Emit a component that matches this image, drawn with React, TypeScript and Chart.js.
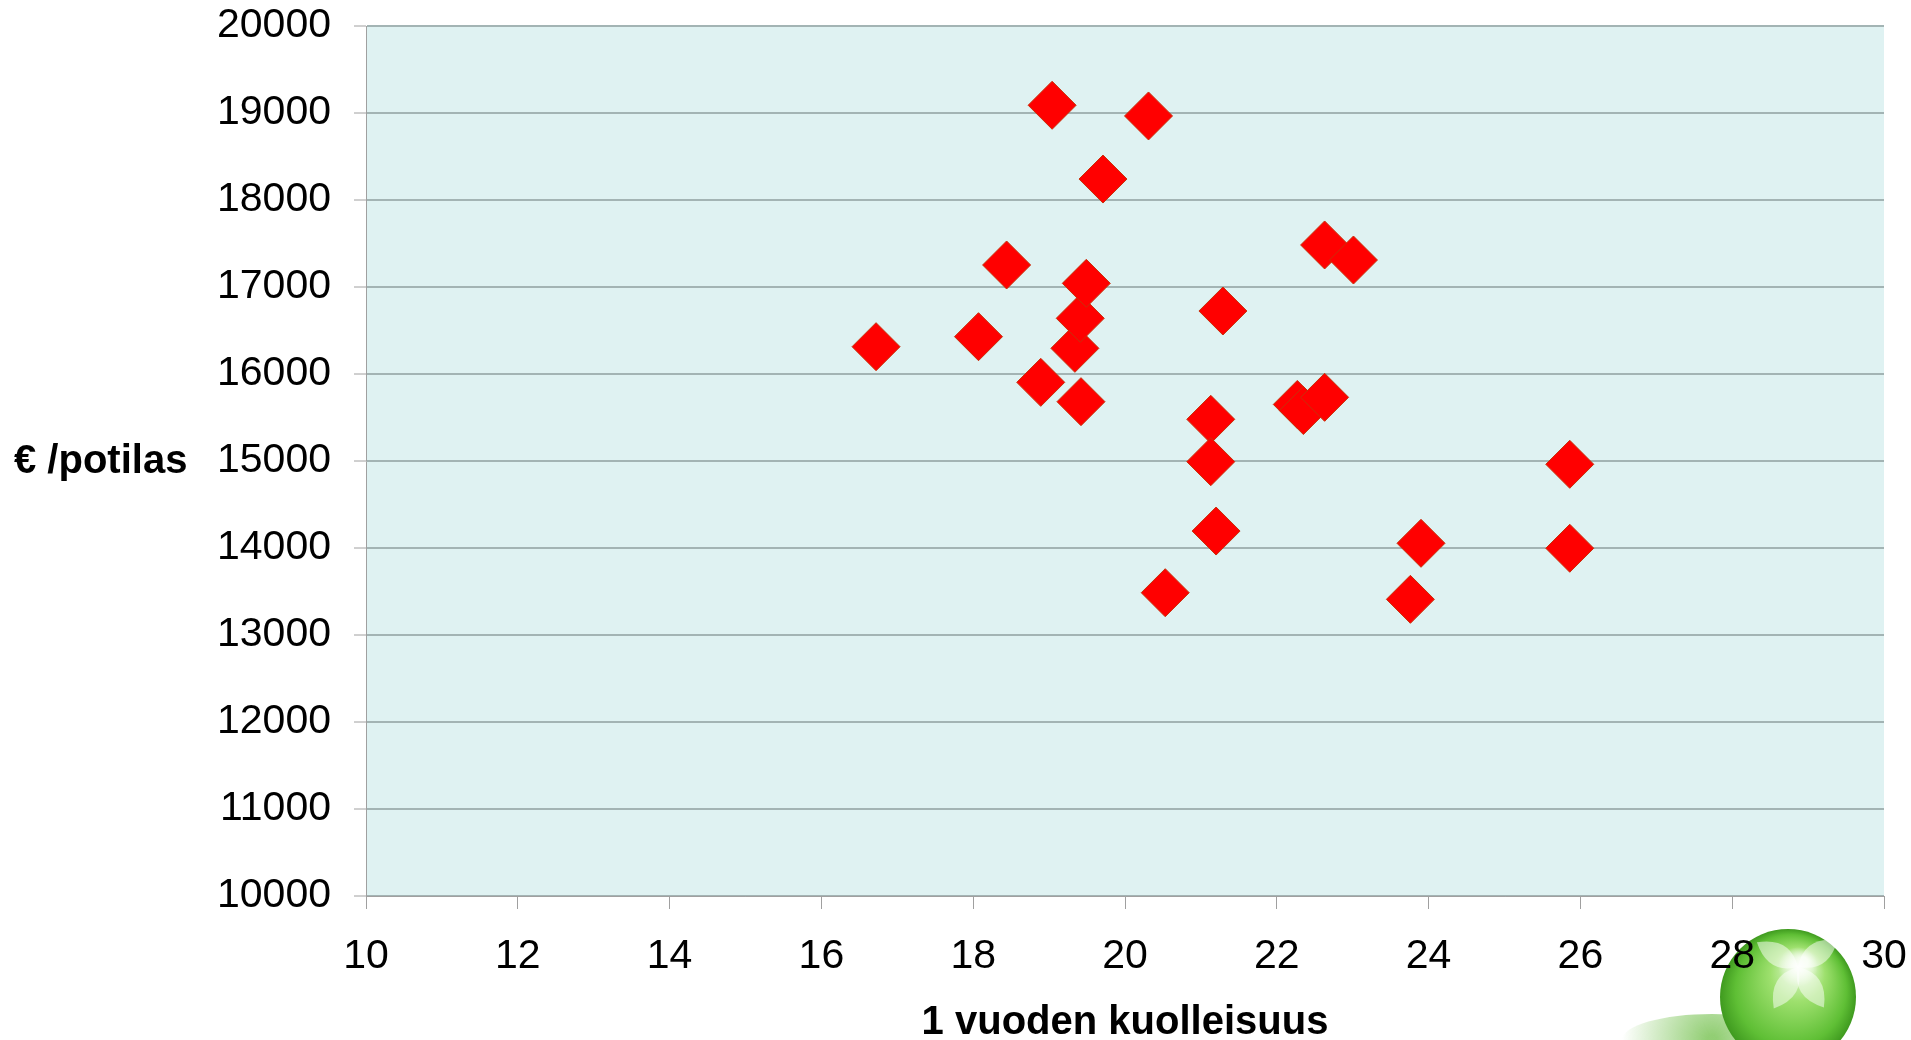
import React, { useEffect, useRef } from 'react';
import { Chart, registerables } from 'chart.js';

Chart.register(...registerables);

// 1-year mortality (%) per hospital district
const mortality = [
  16.72, 18.07, 18.44, 18.89, 19.04, 19.34, 19.41, 19.42, 19.49, 19.71,
  20.31, 20.53, 21.13, 21.13, 21.2, 21.29, 22.27, 22.35, 22.63, 22.63,
  23.01, 23.76, 23.9, 25.86, 25.86,
];
// Cost € per patient
const costPerPatient = [
  16314, 16429, 17253, 15904, 19089, 16295, 16640, 15682, 17042, 18241,
  18966, 13486, 15479, 14992, 14195, 16724, 15650, 15580, 15732, 17483,
  17310, 13410, 14054, 14962, 13997,
];

const xTicks = [10, 12, 14, 16, 18, 20, 22, 24, 26, 28, 30];
const yTicks = [10000, 11000, 12000, 13000, 14000, 15000, 16000, 17000, 18000, 19000, 20000];

const xTitle = '1 vuoden kuolleisuus';
const yTitle = '€ /potilas';

const FONT = '"Liberation Sans", Arial, Helvetica, sans-serif';

const zeroPadding = (scale: any) => {
  scale.paddingTop = 0;
  scale.paddingBottom = 0;
  scale.paddingLeft = 0;
  scale.paddingRight = 0;
};

const decorPlugin = {
  id: 'decor',
  beforeDraw(chart: any) {
    const { ctx, chartArea: a } = chart;
    ctx.save();
    ctx.fillStyle = '#dff2f2';
    ctx.fillRect(a.left, a.top, a.right - a.left, a.bottom - a.top);

    // decorative green ball (logo) at bottom right
    const cx = 1788;
    const cy = 997;
    const r = 68;
    const sh = ctx.createRadialGradient(1712, 1040, 5, 1712, 1040, 90);
    sh.addColorStop(0, 'rgba(110,190,70,0.75)');
    sh.addColorStop(1, 'rgba(110,190,70,0)');
    ctx.fillStyle = sh;
    ctx.beginPath();
    ctx.ellipse(1712, 1040, 90, 26, 0, 0, Math.PI * 2);
    ctx.fill();
    const g = ctx.createRadialGradient(cx + 15, cy - 35, 5, cx, cy, r);
    g.addColorStop(0, '#e9fbdc');
    g.addColorStop(0.35, '#9ee06e');
    g.addColorStop(0.8, '#5fbf35');
    g.addColorStop(1, '#3f9a1f');
    ctx.fillStyle = g;
    ctx.beginPath();
    ctx.arc(cx, cy, r, 0, Math.PI * 2);
    ctx.fill();
    // flower petals
    ctx.fillStyle = 'rgba(255,255,255,0.5)';
    const fx = cx + 10;
    const fy = cy - 30;
    const petalAngles = [-2.6, -0.6, 1.0, 2.1];
    petalAngles.forEach((ang) => {
      ctx.save();
      ctx.translate(fx, fy);
      ctx.rotate(ang);
      ctx.beginPath();
      ctx.moveTo(0, 0);
      ctx.quadraticCurveTo(22, -22, 48, 0);
      ctx.quadraticCurveTo(22, 22, 0, 0);
      ctx.fill();
      ctx.restore();
    });
    const hl = ctx.createRadialGradient(fx, fy, 0, fx, fy, 20);
    hl.addColorStop(0, 'rgba(255,255,255,0.95)');
    hl.addColorStop(1, 'rgba(255,255,255,0)');
    ctx.fillStyle = hl;
    ctx.beginPath();
    ctx.arc(fx, fy, 20, 0, Math.PI * 2);
    ctx.fill();
    ctx.restore();
  },
  afterDraw(chart: any) {
    const { ctx } = chart;
    const y = chart.scales.y.getPixelForValue(15000);
    ctx.save();
    ctx.font = `bold 40px ${FONT}`;
    ctx.fillStyle = '#000';
    ctx.textAlign = 'left';
    ctx.textBaseline = 'middle';
    ctx.fillText(yTitle, 14, y + 1);
    ctx.restore();
  },
};

export default function App() {
  const ref = useRef<HTMLCanvasElement | null>(null);

  useEffect(() => {
    if (!ref.current) return;
    const points = mortality.map((x, i) => ({ x, y: costPerPatient[i] }));
    const chart = new Chart(ref.current, {
      type: 'scatter',
      data: {
        datasets: [
          {
            data: points,
            pointStyle: 'rectRot',
            pointRadius: 24,
            pointHoverRadius: 24,
            backgroundColor: '#ff0000',
            borderColor: '#c8300a',
            borderWidth: 1,
          },
        ],
      },
      options: {
        animation: false,
        responsive: true,
        maintainAspectRatio: false,
        layout: { padding: { top: 26, right: 27, left: 0, bottom: 0 } },
        plugins: {
          legend: { display: false },
          tooltip: { enabled: false },
        },
        scales: {
          x: {
            type: 'linear',
            min: 10,
            max: 30,
            afterBuildTicks: (scale: any) => {
              scale.ticks = xTicks.map((v) => ({ value: v }));
            },
            afterFit: (scale: any) => {
              scale.height = 144;
              zeroPadding(scale);
            },
            ticks: {
              color: '#000',
              font: { family: FONT, size: 41, lineHeight: 1 },
              padding: 27,
              maxRotation: 0,
              autoSkip: false,
              callback: (v: any) => String(v),
            },
            grid: {
              drawOnChartArea: false,
              drawTicks: true,
              tickLength: 13,
              tickColor: '#a0a0a0',
              tickWidth: 1,
            },
            border: { display: true, color: '#a0a0a0', width: 1 },
            title: {
              display: true,
              text: xTitle,
              color: '#000',
              font: { family: FONT, size: 40, weight: 'bold', lineHeight: 0.85 },
              padding: 0,
            },
          },
          y: {
            type: 'linear',
            min: 10000,
            max: 20000,
            afterBuildTicks: (scale: any) => {
              scale.ticks = yTicks.map((v) => ({ value: v }));
            },
            afterFit: (scale: any) => {
              scale.width = 366;
              zeroPadding(scale);
            },
            ticks: {
              color: '#000',
              font: { family: FONT, size: 41, lineHeight: 1 },
              padding: 23,
              autoSkip: false,
              callback: (v: any) => String(v),
            },
            grid: {
              color: '#a3b4b4',
              lineWidth: 2,
              drawTicks: true,
              tickLength: 12,
              tickColor: '#a0a0a0',
              tickWidth: 1,
            },
            border: { display: true, color: '#a0a0a0', width: 1 },
          },
        },
      },
      plugins: [decorPlugin],
    });
    return () => chart.destroy();
  }, []);

  return (
    <div style={{ position: 'fixed', left: 0, top: 0, width: 1911, height: 1040, background: '#fff' }}>
      <canvas ref={ref} />
    </div>
  );
}
